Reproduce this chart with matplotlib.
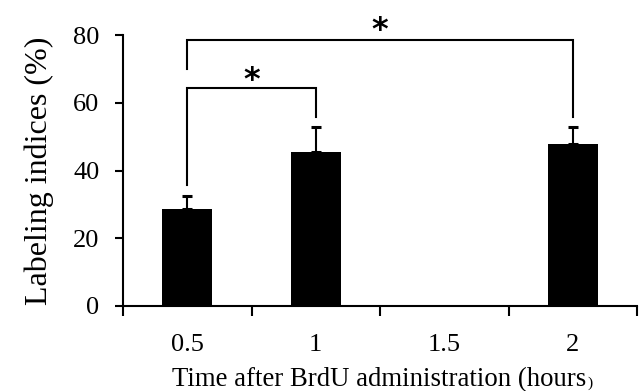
import matplotlib
matplotlib.use("Agg")
import matplotlib.pyplot as plt

# data
times = ["0.5", "1", "1.5", "2"]
labeling = [28.6, 45.6, None, 47.9]
sem = [4.0, 7.2, None, 4.9]

# significance brackets: (left category, right category, bracket height, left end, right end)
brackets = [(0, 1, 64.3, 35.8, 55.7), (0, 3, 78.6, 70.0, 55.9)]
star_y = [66.5, 81.2]

plt.rcParams['font.family'] = ['Liberation Serif', 'DejaVu Serif']

fig = plt.figure(figsize=(6.43, 3.91), dpi=100, facecolor='w')
ax = fig.add_axes([123/643, 1 - 306/391, (637 - 123)/643, (306 - 35)/391])

xpos = [i + 0.5 for i in range(len(times))]
for x, v, e in zip(xpos, labeling, sem):
    if v is None:
        continue
    ax.bar(x, v, width=0.39, color='k', zorder=2)
    ax.errorbar(x, v, yerr=[[0], [e]], fmt='none', ecolor='k', elinewidth=1.5,
                capsize=3.5, capthick=2.2, zorder=3)

for (i, j, h, yl, yr), sy in zip(brackets, star_y):
    ax.plot([xpos[i], xpos[i], xpos[j], xpos[j]], [yl, h, h, yr],
            color='k', lw=1.5, clip_on=False, solid_joinstyle='miter')
    ax.text((xpos[i] + xpos[j]) / 2, sy, '*', ha='center', va='center',
            fontsize=23, family='DejaVu Sans', fontweight='bold', clip_on=False)

ax.set_xlim(0, 4)
ax.set_ylim(0, 80)
ax.set_yticks([0, 20, 40, 60, 80])
ax.set_xticks([0, 1, 2, 3, 4])
ax.set_xticklabels([])
ax.set_xticks(xpos, minor=True)
ax.set_xticklabels(times, minor=True)
ax.tick_params(axis='x', which='minor', length=0, labelsize=19, pad=20)
ax.tick_params(axis='x', which='major', length=7, width=1.5, direction='out')
ax.tick_params(axis='y', length=6, width=1.5, direction='out', labelsize=19, pad=11)

for s in ['top', 'right']:
    ax.spines[s].set_visible(False)
for s in ['left', 'bottom']:
    ax.spines[s].set_linewidth(1.5)

ax.set_ylabel('Labeling indices (%)', fontsize=23, labelpad=14)
fig.text(172, 391 - 386, 'Time after BrdU administration (hours', fontsize=19.3,
         ha='left', va='baseline', transform=None)

# small closing bracket after "hours"
fig.canvas.draw()
bb = fig.texts[0].get_window_extent()
fig.text(bb.x1 + 1, 391 - 387, ')', fontsize=11, ha='left', va='baseline', transform=None)

fig.savefig('out.png', dpi=100)
